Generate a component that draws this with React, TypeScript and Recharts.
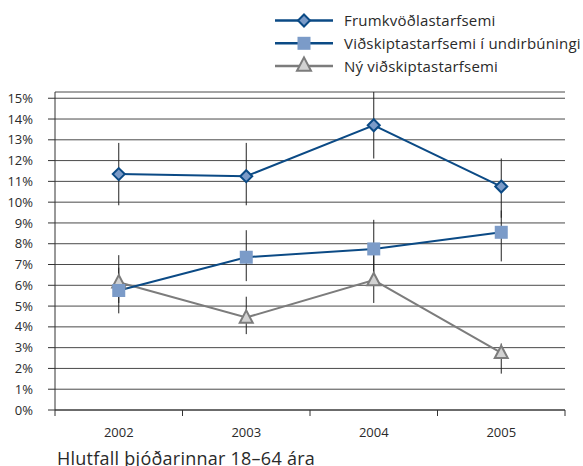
import React from 'react';
import { LineChart, Line, XAxis, YAxis, CartesianGrid, ErrorBar, Legend } from 'recharts';

const years = [2002, 2003, 2004, 2005];
const seriesNames = ['Frumkvöðlastarfsemi', 'Viðskiptastarfsemi í undirbúningi', 'Ný viðskiptastarfsemi'];

const frumValues = [11.35, 11.25, 13.7, 10.75];
const frumLow = [9.85, 9.85, 12.1, 9.25];
const frumHigh = [12.85, 12.85, 15.3, 12.1];

const undirValues = [5.75, 7.35, 7.75, 8.55];
const undirLow = [4.65, 6.2, 6.6, 7.15];
const undirHigh = [6.85, 8.65, 9.15, 9.6];

const nyValues = [6.15, 4.45, 6.25, 2.75];
const nyLow = [5.15, 3.65, 5.15, 1.75];
const nyHigh = [7.45, 5.45, 7.45, 3.2];

const yTicks = [0, 1, 2, 3, 4, 5, 6, 7, 8, 9, 10, 11, 12, 13, 14, 15];
const xBoundaries = [2001.5, 2002.5, 2003.5, 2004.5, 2005.5];
const xTicks = [...xBoundaries, ...years].sort((a, b) => a - b);
const title = 'Hlutfall þjóðarinnar 18–64 ára';

const data = years.map((year, i) => ({
  year,
  frum: frumValues[i],
  frumErr: [frumValues[i] - frumLow[i], frumHigh[i] - frumValues[i]],
  undir: undirValues[i],
  undirErr: [undirValues[i] - undirLow[i], undirHigh[i] - undirValues[i]],
  ny: nyValues[i],
  nyErr: [nyValues[i] - nyLow[i], nyHigh[i] - nyValues[i]],
}));

const BLUE = '#0b4a85';
const LIGHTBLUE = '#7b9bc8';
const GRAY = '#7c7c7c';
const LIGHTGRAY = '#d2d2d2';
const TEXT = '#2a2a2a';
const FONT = '"Open Sans", "Liberation Sans", Arial, sans-serif';

const Diamond = ({ cx, cy, r = 6 }: any) => (
  <polygon
    points={`${cx},${cy - r} ${cx + r},${cy} ${cx},${cy + r} ${cx - r},${cy}`}
    fill={LIGHTBLUE}
    stroke={BLUE}
    strokeWidth={2}
  />
);
const Square = ({ cx, cy, s = 13 }: any) => (
  <rect x={cx - s / 2} y={cy - s / 2} width={s} height={s} fill={LIGHTBLUE} />
);
const Triangle = ({ cx, cy, s = 13 }: any) => (
  <polygon
    points={`${cx},${cy - s * 0.55} ${cx + s / 2},${cy + s * 0.4} ${cx - s / 2},${cy + s * 0.4}`}
    fill={LIGHTGRAY}
    stroke={GRAY}
    strokeWidth={2}
  />
);

const renderXTick = (props: any) => {
  const { x, y, payload } = props;
  const v = payload.value;
  if (Number.isInteger(v)) {
    return (
      <text x={x} y={y + 27} textAnchor="middle" fontSize={13} fill={TEXT} fontFamily={FONT}>
        {v}
      </text>
    );
  }
  return <line x1={x} x2={x} y1={y} y2={y + 6} stroke="#333" strokeWidth={1} />;
};

const legendRows = [
  { name: seriesNames[0], color: BLUE, marker: 'diamond' },
  { name: seriesNames[1], color: BLUE, marker: 'square' },
  { name: seriesNames[2], color: GRAY, marker: 'triangle' },
];

const renderLegend = () => (
  <svg width={313} height={80} style={{ display: 'block' }}>
    {legendRows.map((r, i) => {
      const y = 20.5 + i * 22.8;
      return (
        <g key={r.name}>
          <line x1={5} x2={63} y1={y} y2={y} stroke={r.color} strokeWidth={2.5} />
          {r.marker === 'diamond' && <Diamond cx={34} cy={y} r={6} />}
          {r.marker === 'square' && <Square cx={34} cy={y} s={13} />}
          {r.marker === 'triangle' && <Triangle cx={34} cy={y - 1} s={14} />}
          <text x={74} y={y + 5.5} fontSize={15} letterSpacing={0.2} fill={TEXT} fontFamily={FONT}>
            {r.name}
          </text>
        </g>
      );
    })}
  </svg>
);

export default function App() {
  return (
    <div style={{ position: 'fixed', left: 0, top: 0, width: 583, height: 466, background: '#fff', overflow: 'hidden' }}>
      <LineChart
        width={583}
        height={466}
        data={data}
        margin={{ top: 92, right: 18, bottom: 0, left: 0 }}
      >
        <CartesianGrid horizontal vertical={false} stroke="#4a4a4a" strokeWidth={1} />
        <XAxis
          dataKey="year"
          type="number"
          domain={[2001.5, 2005.5]}
          ticks={xTicks}
          interval={0}
          tickLine={false}
          tickSize={0}
          tickMargin={0}
          axisLine={{ stroke: '#333' }}
          tick={renderXTick}
          height={56}
        />
        <YAxis
          type="number"
          domain={[0, 15]}
          ticks={yTicks}
          interval={0}
          width={55}
          tickSize={7}
          tickMargin={15}
          tickFormatter={(v: number) => `${v}%`}
          tick={{ fontSize: 13, fill: TEXT, fontFamily: FONT }}
          tickLine={{ stroke: '#333' }}
          axisLine={{ stroke: '#333' }}
        />
        <Legend
          layout="horizontal"
          verticalAlign="middle"
          align="center"
          content={renderLegend}
          wrapperStyle={{ position: 'absolute', left: 270, top: 0, width: 313, height: 80 }}
        />
        <Line
          dataKey="ny"
          stroke={GRAY}
          strokeWidth={2}
          isAnimationActive={false}
          dot={(p: any) => <Triangle key={`t${p.index}`} cx={p.cx} cy={p.cy} s={13} />}
        >
          <ErrorBar dataKey="nyErr" width={0} stroke="#222" strokeWidth={1} direction="y" />
        </Line>
        <Line
          dataKey="undir"
          stroke={BLUE}
          strokeWidth={2}
          isAnimationActive={false}
          dot={(p: any) => <Square key={`s${p.index}`} cx={p.cx} cy={p.cy} s={13} />}
        >
          <ErrorBar dataKey="undirErr" width={0} stroke="#222" strokeWidth={1} direction="y" />
        </Line>
        <Line
          dataKey="frum"
          stroke={BLUE}
          strokeWidth={2}
          isAnimationActive={false}
          dot={(p: any) => <Diamond key={`d${p.index}`} cx={p.cx} cy={p.cy} r={6} />}
        >
          <ErrorBar dataKey="frumErr" width={0} stroke="#222" strokeWidth={1} direction="y" />
        </Line>
      </LineChart>
      <div
        style={{
          position: 'absolute',
          left: 57,
          top: 449,
          fontSize: 18,
          lineHeight: '18px',
          letterSpacing: 0.25,
          fontFamily: FONT,
          color: TEXT,
          whiteSpace: 'nowrap',
        }}
      >
        {title}
      </div>
    </div>
  );
}
